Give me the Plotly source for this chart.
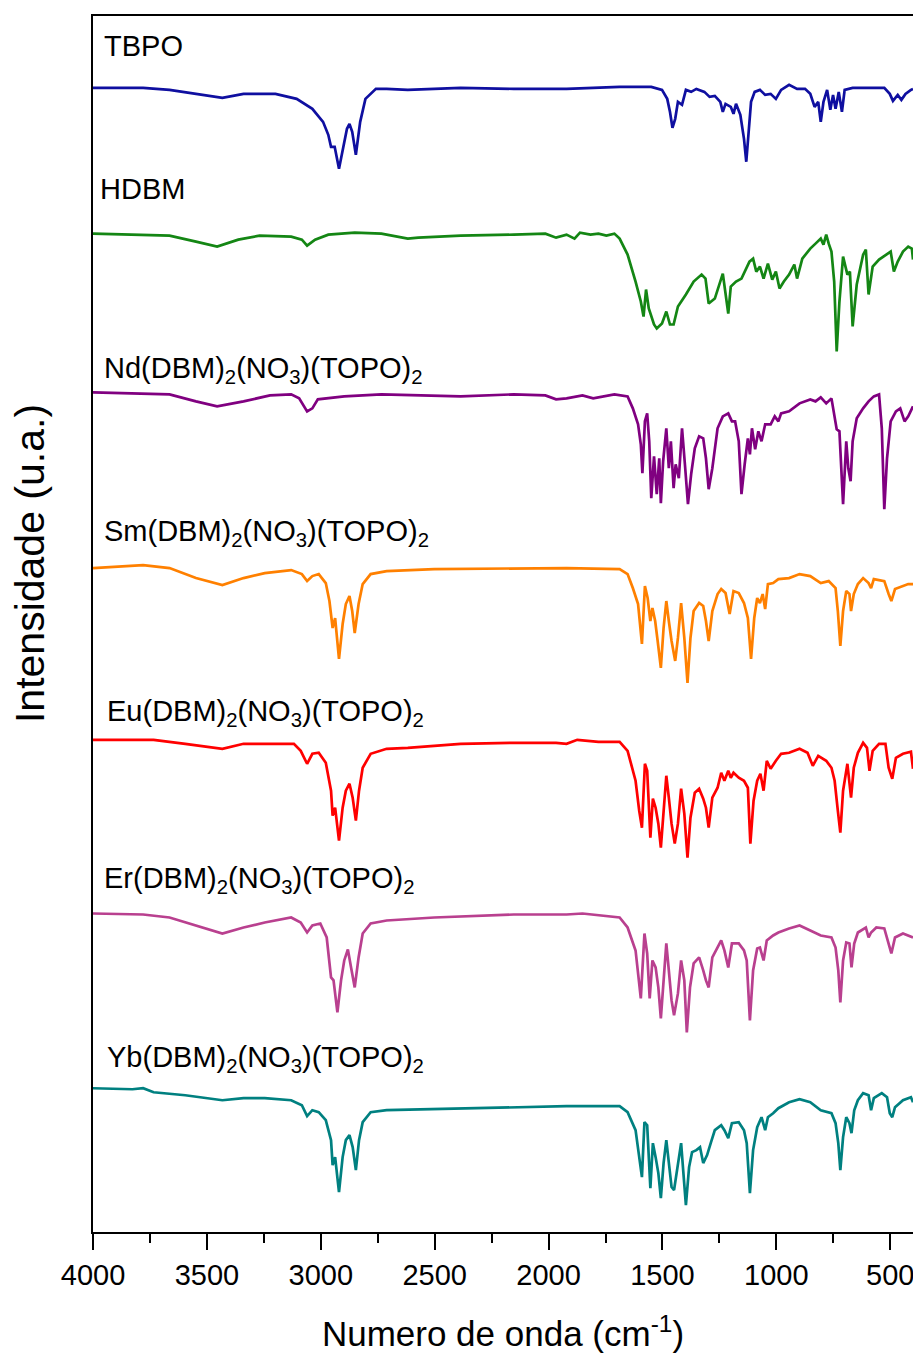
import plotly.graph_objects as go

# ---------------- data (wavenumber in cm^-1, intensity in a.u. with vertical offsets) -------------
TBPO_wn = [4000,3780,3664,3548,3432,3339,3199,3106,3037,2990,2967,2955,2939,2920,2902,2885,2874,2862,2846,2827,
           2804,2758,2711,2618,2386,2153,1921,1688,1549,1502,1479,1467,1456,1444,1432,1414,1397,1374,1351,1316,
           1293,1270,1246,1235,1223,1200,1188,1177,1158,1142,1132,1123,1111,1095,1072,1049,1025,1002,979,944,
           909,874,851,832,816,805,793,777,763,751,740,726,712,700,665,526,502,488,467,451,433,409,400]
TBPO_y = [114.6,114.6,114.4,114.0,113.6,114.0,114.0,113.5,112.5,111.2,109.9,108.7,108.7,106.5,108.5,110.5,111.0,110.2,107.9,111.2,
          113.5,114.5,114.5,114.4,114.6,114.5,114.5,114.7,114.7,114.4,113.5,112.2,110.6,111.5,113.2,112.9,114.4,114.2,114.5,114.2,
          113.7,113.8,113.2,112.2,113.0,112.7,112.0,113.0,111.9,109.5,107.2,109.5,113.2,114.2,114.4,113.9,114.0,113.5,114.4,114.9,
          114.5,114.5,114.0,112.7,113.2,111.2,113.2,114.4,112.4,113.9,112.5,114.2,112.2,114.4,114.6,114.6,114.0,113.3,113.9,113.4,
          114.0,114.4,114.5]

HDBM_wn = [4000,3780,3664,3548,3455,3362,3269,3130,3083,3060,3025,2967,2851,2734,2618,2572,2386,2153,2014,1967,
           1921,1886,1862,1816,1781,1746,1711,1688,1653,1618,1595,1583,1572,1560,1537,1525,1502,1483,1467,1451,
           1432,1397,1363,1328,1311,1297,1270,1235,1223,1211,1200,1177,1153,1118,1102,1088,1072,1056,1037,1018,
           1002,986,967,944,921,909,886,851,828,805,793,781,770,758,746,735,723,707,688,677,
           665,647,619,607,595,577,549,514,498,484,467,444,421,405,400]
HDBM_y = [100.0,99.9,99.8,99.2,98.7,99.4,99.8,99.7,99.4,98.8,99.4,99.9,100.1,100.0,99.5,99.6,99.8,99.9,100.0,99.6,
          99.9,99.5,100.1,99.9,100.0,99.8,100.0,99.5,97.9,95.2,93.2,91.7,94.4,92.5,90.9,90.5,91.0,92.2,90.9,90.9,
          92.7,93.9,95.2,95.9,95.5,93.0,93.5,96.0,94.2,92.0,94.7,95.2,95.5,97.2,97.5,96.2,96.7,95.5,97.0,95.4,
          96.2,94.5,95.2,95.9,96.9,95.5,97.5,98.5,99.0,99.5,98.9,99.9,99.0,98.2,95.2,88.2,93.2,97.7,95.9,96.2,
          90.7,94.9,97.9,98.4,93.9,96.7,97.4,98.0,98.2,96.2,97.2,98.2,98.7,98.5,97.4]

Nd_wn = [4000,3780,3664,3548,3455,3339,3223,3130,3095,3060,3037,3013,2897,2734,2386,2153,2014,1967,1921,1851,
         1804,1711,1653,1630,1607,1595,1588,1577,1567,1558,1549,1537,1525,1514,1507,1497,1483,1472,1463,1451,
         1442,1428,1414,1400,1388,1374,1358,1339,1321,1309,1297,1281,1258,1235,1211,1195,1181,1165,1153,1139,
         1125,1116,1107,1093,1079,1065,1049,1025,1007,991,979,944,898,851,828,805,781,758,735,723,
         707,693,684,674,665,647,619,595,572,549,537,526,514,498,475,456,437,421,405,400]
Nd_y = [84.1,84.0,83.9,83.2,82.7,83.2,83.8,83.9,83.5,82.2,82.5,83.4,83.7,83.9,83.7,83.9,83.8,83.4,83.5,83.8,
        83.5,83.9,83.7,82.5,80.9,78.9,76.0,81.2,82.0,79.2,73.5,77.7,73.9,77.5,73.0,77.2,80.5,76.5,79.2,74.5,
        76.9,75.5,80.5,76.5,72.9,75.9,78.5,79.7,79.5,77.5,74.4,76.5,80.5,81.7,82.0,81.2,81.2,79.2,73.9,76.9,
        79.5,77.9,80.5,78.4,80.2,79.2,80.9,80.9,81.7,81.2,82.0,82.2,83.0,83.4,83.2,83.6,83.0,83.5,80.4,80.2,
        72.9,79.2,76.5,75.2,79.2,81.5,82.5,83.2,83.7,83.9,80.5,72.4,77.5,81.2,82.2,82.5,81.2,81.7,82.5,82.7]

Sm_wn = [4000,3780,3664,3548,3432,3339,3246,3130,3083,3060,3037,3009,2978,2962,2948,2937,2920,2904,2890,2874,
         2862,2851,2834,2816,2781,2711,2502,2153,1921,1688,1653,1630,1607,1590,1577,1565,1553,1544,1532,1521,
         1507,1495,1483,1472,1460,1444,1432,1418,1404,1390,1377,1363,1339,1321,1309,1297,1281,1258,1242,1223,
         1205,1188,1165,1142,1125,1111,1097,1084,1072,1060,1049,1037,1014,991,944,898,851,805,770,740,
         730,719,707,693,679,672,660,642,619,595,584,572,526,507,495,479,444,421,400]
Sm_y = [66.5,66.8,66.5,65.5,64.8,65.5,66.0,66.3,65.9,65.2,65.7,65.9,65.0,63.2,60.5,61.5,57.4,60.9,62.9,63.7,
        62.2,60.0,62.9,64.9,65.9,66.2,66.4,66.5,66.5,66.4,65.9,64.5,62.9,58.9,64.7,63.5,61.2,62.5,61.2,59.2,
        56.5,60.5,63.2,61.2,59.2,57.2,59.5,63.0,59.5,55.0,59.5,62.2,63.0,62.7,61.2,59.2,62.2,63.9,64.4,64.0,
        61.9,64.2,64.0,63.0,61.5,57.4,61.5,63.5,63.0,63.9,62.4,64.9,65.0,65.4,65.5,65.9,65.7,65.0,65.2,64.5,
        62.2,58.7,62.2,64.2,63.9,62.2,63.9,64.9,65.5,65.0,64.5,65.4,65.2,63.9,63.2,64.4,64.7,64.9,64.9]

Eu_wn = [4000,3734,3595,3432,3339,3199,3118,3088,3060,3037,3009,2978,2955,2948,2937,2920,2904,2890,2874,2860,
         2846,2832,2816,2781,2711,2618,2502,2386,2153,1967,1921,1874,1781,1688,1653,1618,1602,1590,1577,1567,
         1553,1542,1530,1518,1507,1495,1483,1472,1460,1446,1432,1418,1404,1390,1377,1358,1339,1321,1309,1297,
         1281,1258,1242,1228,1211,1200,1188,1165,1142,1125,1114,1100,1084,1070,1056,1042,1025,1002,979,944,
         898,863,840,816,781,758,744,730,719,707,688,672,660,642,619,602,591,577,549,521,
         507,491,475,444,409,400]
Eu_y = [49.3,49.3,48.9,48.4,48.9,48.9,48.9,48.2,46.9,47.9,48.0,47.0,44.2,41.7,42.5,39.2,42.5,44.2,44.9,43.5,
        41.2,44.2,46.5,47.9,48.4,48.5,48.7,48.9,49.0,49.0,48.9,49.3,49.1,49.1,48.2,45.2,42.2,40.5,46.9,46.2,
        39.5,43.4,42.5,40.9,38.5,42.2,45.7,43.5,40.9,38.9,40.9,44.4,41.9,37.5,41.5,44.0,44.4,43.4,42.5,40.5,
        43.5,44.5,46.0,45.2,46.2,45.5,46.0,45.5,45.2,44.5,38.9,43.2,45.2,45.9,44.2,47.2,46.4,47.2,47.9,48.0,
        48.4,48.0,46.7,47.7,47.2,46.5,45.2,42.2,40.0,44.2,46.9,43.5,46.5,48.0,49.0,48.5,46.2,48.2,48.9,48.9,
        46.5,45.4,47.5,47.9,48.1,46.4]

Er_wn = [4000,3780,3664,3548,3432,3339,3246,3130,3088,3060,3037,3002,2974,2955,2944,2927,2911,2897,2881,2867,
         2851,2834,2816,2781,2711,2502,2153,1921,1851,1688,1653,1618,1595,1579,1567,1556,1544,1530,1518,1507,
         1495,1483,1472,1460,1449,1432,1418,1404,1393,1379,1363,1339,1321,1309,1297,1281,1258,1242,1228,1211,
         1195,1165,1142,1130,1116,1102,1084,1072,1056,1042,1014,991,944,898,851,805,758,740,728,719,
         707,693,679,670,658,642,607,595,584,561,526,507,495,479,444,400]
Er_y = [31.9,31.8,31.5,30.7,29.9,30.5,31.0,31.5,31.0,30.0,30.7,30.9,29.5,25.5,25.2,22.0,25.2,27.2,28.3,26.5,
        24.5,27.5,29.9,30.9,31.2,31.5,31.8,31.8,31.9,31.5,30.5,28.2,23.4,29.9,27.9,23.4,27.2,26.5,24.5,21.4,
        25.2,28.9,26.2,23.2,21.7,23.9,27.2,25.2,20.0,24.5,26.9,27.5,26.2,25.2,24.5,27.5,28.5,29.2,28.2,26.5,
        28.9,28.9,28.2,27.2,21.2,26.2,28.4,28.5,27.2,29.2,29.7,30.0,30.4,30.7,30.2,29.7,29.5,28.5,26.2,23.0,
        27.2,29.0,28.9,26.5,28.9,30.0,30.5,29.5,30.0,30.5,30.4,28.9,27.9,29.5,29.9,29.5]

Yb_wn = [4000,3827,3780,3734,3595,3432,3339,3246,3130,3083,3060,3037,3009,2978,2955,2948,2937,2920,2904,2890,
         2874,2860,2846,2832,2816,2781,2711,2502,2153,1921,1688,1653,1618,1590,1579,1567,1553,1542,1530,1518,
         1507,1495,1483,1472,1460,1449,1432,1418,1409,1397,1383,1370,1351,1335,1321,1304,1288,1270,1242,1228,
         1211,1195,1165,1142,1130,1116,1102,1084,1065,1049,1037,1014,991,944,898,851,805,758,740,728,
         719,707,693,679,670,658,642,619,595,584,572,537,514,502,491,479,444,409,400]
Yb_y = [14.4,14.3,14.4,14.0,13.7,13.2,13.4,13.4,13.2,12.7,11.6,12.2,12.0,11.2,9.2,6.7,7.5,4.0,7.5,9.2,
        9.7,8.5,6.2,9.2,11.0,12.0,12.2,12.3,12.5,12.6,12.6,12.0,10.2,5.5,11.0,10.7,4.4,8.9,7.5,5.9,
        3.4,6.9,9.2,6.9,4.5,4.2,6.9,8.9,6.2,2.7,6.5,8.0,8.2,8.5,6.9,7.7,8.9,10.2,10.7,10.2,
        9.4,10.9,11.0,10.2,8.9,3.9,8.2,10.5,11.5,10.2,11.5,11.9,12.4,13.0,13.3,13.0,12.2,11.9,10.9,8.9,
        6.2,9.5,11.5,10.9,9.9,12.2,13.2,13.9,13.7,12.2,13.4,13.9,13.5,11.9,11.5,12.5,13.2,13.5,13.0]

series_names = ["TBPO", "HDBM",
                "Nd(DBM)<sub>2</sub>(NO<sub>3</sub>)(TOPO)<sub>2</sub>",
                "Sm(DBM)<sub>2</sub>(NO<sub>3</sub>)(TOPO)<sub>2</sub>",
                "Eu(DBM)<sub>2</sub>(NO<sub>3</sub>)(TOPO)<sub>2</sub>",
                "Er(DBM)<sub>2</sub>(NO<sub>3</sub>)(TOPO)<sub>2</sub>",
                "Yb(DBM)<sub>2</sub>(NO<sub>3</sub>)(TOPO)<sub>2</sub>"]
series_x = [TBPO_wn, HDBM_wn, Nd_wn, Sm_wn, Eu_wn, Er_wn, Yb_wn]
series_y = [TBPO_y, HDBM_y, Nd_y, Sm_y, Eu_y, Er_y, Yb_y]
colors = ["#0F0FA0", "#148614", "#800080", "#FF8000", "#FF0000", "#B9408F", "#008080"]

label_x = [3962, 3978, 3962, 3962, 3948, 3962, 3948]
label_y = [118.8, 104.5, 86.3, 70.0, 52.0, 35.3, 17.3]

x_tick_vals = [4000, 3500, 3000, 2500, 2000, 1500, 1000, 500]
x_tick_text = ["4000", "3500", "3000", "2500", "2000", "1500", "1000", "500"]

FONT = "Liberation Sans, Arial, sans-serif"

fig = go.Figure()
for xs, ys, c, n in zip(series_x, series_y, colors, series_names):
    fig.add_trace(go.Scatter(x=xs, y=ys, mode="lines", name=n,
                             line=dict(color=c, width=2.7), showlegend=False))

annotations = []
for lx, ly, n in zip(label_x, label_y, series_names):
    annotations.append(dict(x=lx, y=ly, xref="x", yref="y", text=n, showarrow=False,
                            xanchor="left", yanchor="middle",
                            font=dict(family=FONT, size=29, color="black")))
annotations.append(dict(x=-0.077, y=0.55, xref="paper", yref="paper",
                        text="Intensidade (u.a.)", textangle=-90, showarrow=False,
                        xanchor="center", yanchor="middle",
                        font=dict(family=FONT, size=41, color="black")))

# the page body adds an 8 px offset, so the figure is sized/margined to land the plot area correctly
fig.update_layout(
    width=913, height=1351,
    margin=dict(l=85, r=6, t=6, b=127),
    paper_bgcolor="white", plot_bgcolor="white",
    font=dict(family=FONT, color="black"),
    annotations=annotations,
    xaxis=dict(range=[4000, 400], tickmode="array", tickvals=x_tick_vals, ticktext=x_tick_text,
               ticks="outside", ticklen=16, tickwidth=2, tickcolor="black",
               minor=dict(ticks="outside", ticklen=9, tickwidth=2, tickcolor="black", dtick=250, tick0=0),
               showline=True, linewidth=2, linecolor="black", mirror=True,
               showgrid=False, zeroline=False,
               tickfont=dict(family=FONT, size=29, color="black"),
               title=dict(text="Numero de onda (cm<sup>-1</sup>)", standoff=32,
                          font=dict(family=FONT, size=35, color="black"))),
    yaxis=dict(range=[0, 121.8], showticklabels=False, ticks="",
               showline=True, linewidth=2, linecolor="black", mirror=True,
               showgrid=False, zeroline=False),
)

fig.write_html("out.html")
